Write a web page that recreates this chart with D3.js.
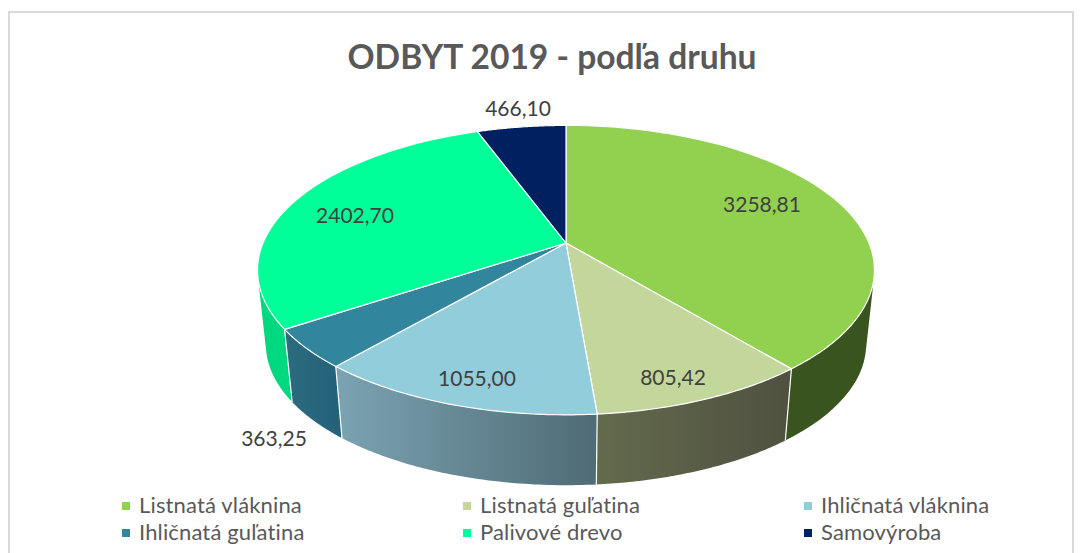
<!DOCTYPE html>
<html>
<head>
<meta charset="utf-8">
<script src="https://cdn.jsdelivr.net/npm/d3@7/dist/d3.min.js"></script>
<style>
	html, body { margin: 0; padding: 0; background: #fff; }
	svg { display: block; }
	text { font-family: Lato, "Open Sans", sans-serif; }
</style>
</head>
<body>
<div id="chart"></div>
<script>
const titleText = 'ODBYT 2019 - podľa druhu';
const categories = ['Listnatá vláknina', 'Listnatá guľatina', 'Ihličnatá vláknina', 'Ihličnatá guľatina', 'Palivové drevo', 'Samovýroba'];
const values = [3258.81, 805.42, 1055.00, 363.25, 2402.70, 466.10];
const valueLabels = ['3258,81', '805,42', '1055,00', '363,25', '2402,70', '466,10'];
const topColors = ['#92d050', '#c3d69b', '#92cddc', '#31859c', '#00ff99', '#002060'];
const sideStart = ['#3a541f', '#636a4c', '#7ba3b2', '#2c6b7f', '#00d880', '#001540'];
const sideEnd = ['#3a541f', '#4f5140', '#4f6b75', '#24627a', '#00d880', '#001540'];

const width = 1082;
const height = 553;

const svg = d3.select('#chart').append('svg')
	.attr('width', width)
	.attr('height', height);

// Chart frame, runs off the bottom of the picture
svg.append('rect')
	.attr('x', 9)
	.attr('y', 12)
	.attr('width', 1064)
	.attr('height', 560)
	.attr('fill', '#fff')
	.attr('stroke', '#d9d9d9')
	.attr('stroke-width', 2);

svg.append('text')
	.attr('x', 552)
	.attr('y', 69)
	.attr('text-anchor', 'middle')
	.attr('font-size', 33.6)
	.attr('font-weight', 700)
	.attr('fill', '#595959')
	.text(titleText);

// Tilted pie: the rim is a circle seen in perspective, so the apex is not the ellipse centre
const cx = 566;
const tilt = 0.1875;
const radiusX = 303;
const radiusY = 139.6;
const topY = 243;
const bottomY = 318;
const bottomScale = 0.973;

function project(angle, r, level) {
	const u = Math.sin(angle) * r;
	const v = Math.cos(angle) * r;
	const w = 1 + tilt * v;
	const s = level ? bottomScale : 1;
	return [
		cx + radiusX * s * u / w,
		(level ? bottomY : topY) - radiusY * s * v / w
	];
}

const pie = d3.pie().sort(null).value(d => d);
const arcs = pie(values);
const line = d3.line();
const steps = 60;

function rim(a0, a1, level) {
	return d3.range(0, steps + 1).map(i => project(a0 + (a1 - a0) * i / steps, 1, level));
}

// One wall as many quads of the same winding, so the fill also covers the
// bit where top and bottom rim cross at the far left and right
function wallPath(d) {
	const top = rim(d.startAngle, d.endAngle, 0);
	const bottom = rim(d.startAngle, d.endAngle, 1);
	return d3.range(0, steps).map(i => {
		const quad = [top[i], top[i + 1], bottom[i + 1], bottom[i]];
		if (d3.polygonArea(quad) < 0) quad.reverse();
		return line(quad) + 'Z';
	}).join('');
}

const defs = svg.append('defs');
arcs.forEach((d, i) => {
	const xs = d3.extent(rim(d.startAngle, d.endAngle, 0), p => p[0]);
	const g = defs.append('linearGradient')
		.attr('id', `side-${i}`)
		.attr('gradientUnits', 'userSpaceOnUse')
		.attr('x1', xs[0]).attr('x2', xs[1])
		.attr('y1', 0).attr('y2', 0);
	g.append('stop').attr('offset', 0).attr('stop-color', sideStart[i]);
	g.append('stop').attr('offset', 1).attr('stop-color', sideEnd[i]);
});

// Side walls first, the top faces then cover whatever belongs to the back
svg.append('g').selectAll('path')
	.data(arcs)
	.join('path')
	.attr('d', wallPath)
	.attr('fill', (d, i) => `url(#side-${i})`);

// White seams between the walls
svg.append('g').selectAll('path')
	.data(arcs)
	.join('path')
	.attr('d', d => line([project(d.startAngle, 1, 0), project(d.startAngle, 1, 1)]))
	.attr('fill', 'none')
	.attr('stroke', '#fff')
	.attr('stroke-width', 1.2);

svg.append('g').selectAll('path')
	.data(arcs)
	.join('path')
	.attr('d', d => line([project(0, 0, 0)].concat(rim(d.startAngle, d.endAngle, 0))) + 'Z')
	.attr('fill', (d, i) => topColors[i])
	.attr('stroke', '#fff')
	.attr('stroke-width', 1.2)
	.attr('stroke-linejoin', 'round');

// Labels sit at hand placed spots, same as the dragged labels in the original
const labelAnchors = [[762, 212], [673, 385], [477, 386], [274, 446], [355, 223], [518, 116]];

svg.append('g').selectAll('text')
	.data(valueLabels)
	.join('text')
	.attr('x', (d, i) => labelAnchors[i][0])
	.attr('y', (d, i) => labelAnchors[i][1])
	.attr('text-anchor', 'middle')
	.attr('font-size', 21)
	.attr('fill', '#404040')
	.text(d => d);

// Legend, three columns by two rows
const legendX = d3.scalePoint().domain([0, 1, 2]).range([122, 804]);
const legendY = d3.scalePoint().domain([0, 1]).range([499, 526]);

const legend = svg.append('g').selectAll('g')
	.data(categories)
	.join('g')
	.attr('transform', (d, i) => `translate(${legendX(i % 3)}, ${legendY(Math.floor(i / 3))})`);

legend.append('rect')
	.attr('width', 8)
	.attr('height', 8)
	.attr('y', 3)
	.attr('fill', (d, i) => topColors[i]);

legend.append('text')
	.attr('x', 17)
	.attr('y', 14)
	.attr('font-size', 22)
	.attr('letter-spacing', 0.15)
	.attr('fill', '#595959')
	.text(d => d);
</script>
</body>
</html>
